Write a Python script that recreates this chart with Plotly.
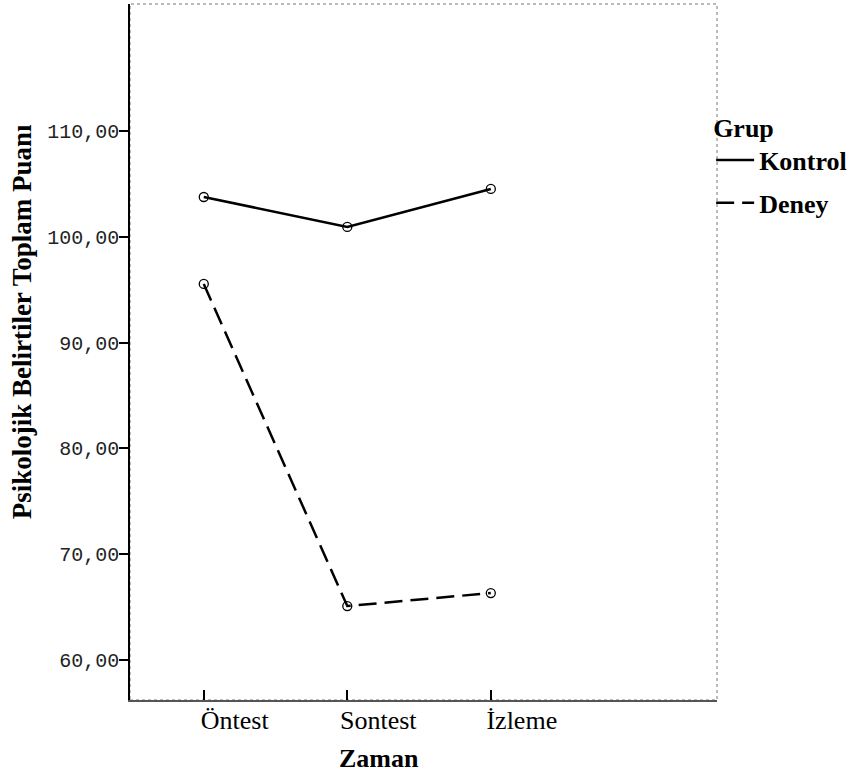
import plotly.graph_objects as go

# Data
zaman = ["Öntest", "Sontest", "İzleme"]
kontrol = [103.76, 100.93, 104.52]
deney = [95.54, 65.1, 66.33]
y_tick_vals = [60, 70, 80, 90, 100, 110]
y_tick_text = ["60,00", "70,00", "80,00", "90,00", "100,00", "110,00"]

serif = "Liberation Serif, Times New Roman, serif"
mono = "Liberation Mono, Courier New, monospace"

marker_style = dict(symbol="circle-open", size=9, color="black",
                    line=dict(width=1.3, color="black"))

fig = go.Figure()
# lines (shown in legend)
fig.add_trace(go.Scatter(
    x=zaman, y=kontrol, name="<b>Kontrol</b>", mode="lines", legendgroup="k",
    line=dict(color="black", width=2.5),
))
fig.add_trace(go.Scatter(
    x=zaman, y=deney, name="<b>Deney</b>", mode="lines", legendgroup="d",
    line=dict(color="black", width=2.5, dash="18px,8px"),
))
# markers (not in legend)
fig.add_trace(go.Scatter(
    x=zaman, y=kontrol, name="Kontrol", mode="markers", legendgroup="k",
    showlegend=False, marker=marker_style,
))
fig.add_trace(go.Scatter(
    x=zaman, y=deney, name="Deney", mode="markers", legendgroup="d",
    showlegend=False, marker=marker_style,
))

fig.update_layout(
    width=856, height=776,
    margin=dict(l=130, r=137, t=4, b=76),
    paper_bgcolor="white", plot_bgcolor="white",
    showlegend=True,
    legend=dict(
        x=0.99, xanchor="left", y=0.858, yanchor="top",
        title=dict(text="<b>Grup</b>", font=dict(family=serif, size=26, color="black")),
        font=dict(family=serif, size=26, color="black"),
        tracegroupgap=6,
        itemwidth=38,
        bgcolor="rgba(0,0,0,0)",
        itemclick=False,
    ),
    xaxis=dict(
        type="category", range=[-0.514, 3.576],
        showgrid=False, zeroline=False,
        showline=True, linecolor="#555555", linewidth=2,
        ticks="inside", ticklen=10, tickwidth=2, tickcolor="black",
        tickfont=dict(family=serif, size=26, color="black"),
        ticklabelshift=31,
        ticklabelstandoff=-4,
    ),
    yaxis=dict(
        range=[56.22, 122.0],
        showgrid=False, zeroline=False,
        showline=True, linecolor="black", linewidth=1.5,
        ticks="outside", ticklen=9, tickwidth=2, tickcolor="black",
        tickvals=y_tick_vals, ticktext=y_tick_text,
        tickfont=dict(family=mono, size=20, color="#222222"),
        ticklabelstandoff=-4,
    ),
    shapes=[dict(
        type="rect", xref="paper", yref="paper", x0=0, x1=1, y0=0, y1=1,
        line=dict(color="#777777", width=1, dash="dot"), layer="below",
    )],
    annotations=[
        dict(text="<b>Zaman</b>", xref="paper", yref="paper",
             x=(380 - 130) / 589, y=-(759 - 700) / 696, xanchor="center", yanchor="middle",
             showarrow=False, font=dict(family=serif, size=26, color="black")),
        dict(text="<b>Psikolojik Belirtiler Toplam Puanı</b>", xref="paper", yref="paper",
             x=(22 - 130) / 589, y=(700 - 322) / 696, xanchor="center", yanchor="middle",
             textangle=-90, showarrow=False,
             font=dict(family=serif, size=27, color="black")),
    ],
)

fig.write_html("out.html", config={"displayModeBar": False},
               post_script="document.body.style.margin='0px';")
